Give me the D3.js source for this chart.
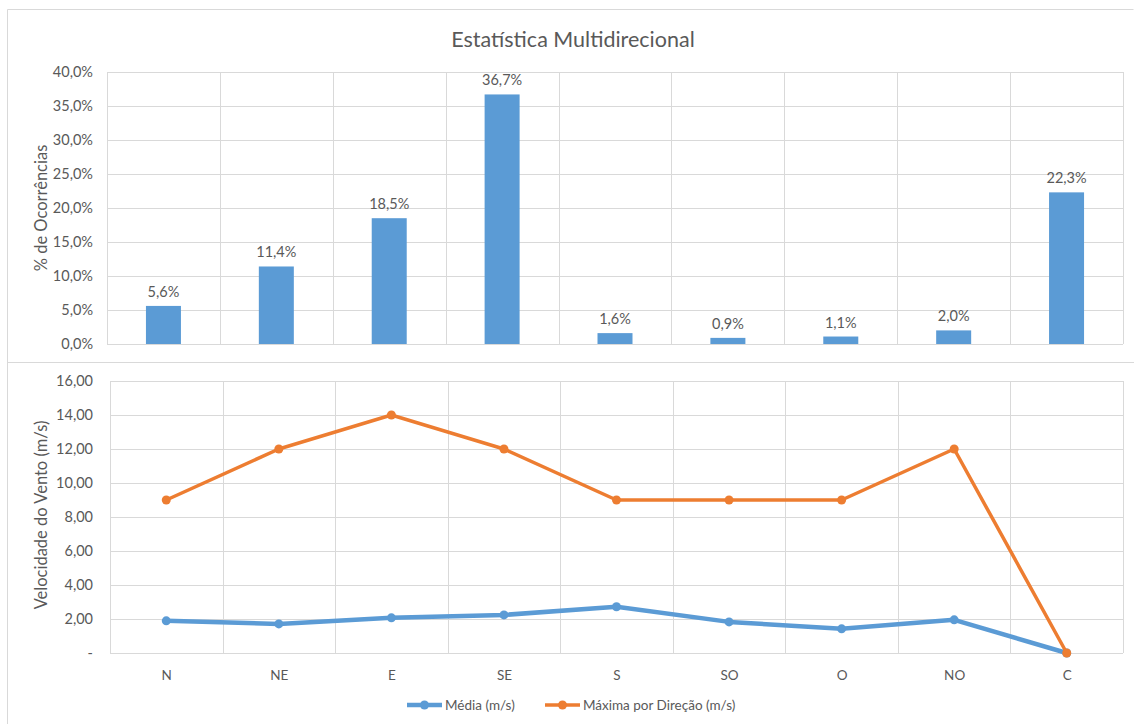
<!DOCTYPE html>
<html><head><meta charset="utf-8">
<script src="https://cdn.jsdelivr.net/npm/d3@7"></script>
<style>
html,body{margin:0;padding:0;background:#fff;}
svg{display:block;font-family:Lato,"Open Sans",sans-serif;}
</style></head>
<body>
<svg id="chart" width="1134" height="724"></svg>
<script>
// Wind direction categories
const directions = ["N","NE","E","SE","S","SO","O","NO","C"];
// Share of occurrences per direction (%)
const occurrence = [5.6, 11.4, 18.5, 36.7, 1.6, 0.9, 1.1, 2.0, 22.3];
// Mean wind speed per direction (m/s)
const meanSpeed = [1.89, 1.71, 2.07, 2.24, 2.72, 1.83, 1.42, 1.95, 0];
// Maximum wind speed per direction (m/s)
const maxSpeed = [9, 12, 14, 12, 9, 9, 9, 12, 0];
// Axis ticks
const pctTicks = [0, 5, 10, 15, 20, 25, 30, 35, 40];
const speedTicks = [0, 2, 4, 6, 8, 10, 12, 14, 16];

const svg = d3.select("#chart");
const textColor = "#595959";
const gridColor = "#d9d9d9";
const blue = "#5B9BD5";
const orange = "#ED7D31";
const fmt1 = v => v.toFixed(1).replace(".", ",");
const fmt2 = v => v === 0 ? "-" : v.toFixed(2).replace(".", ",");
const tickFont = 14.5;

// Chart frames
svg.append("path")
  .attr("d", "M7.5,724 V9.5 H1133.5")
  .attr("fill", "none").attr("stroke", gridColor).attr("stroke-width", 1);
svg.append("line").attr("x1", 7.5).attr("x2", 1134).attr("y1", 362.5).attr("y2", 362.5)
  .attr("stroke", gridColor);

// Title
svg.append("text").attr("x", 573).attr("y", 47).attr("text-anchor", "middle")
  .attr("fill", textColor).attr("font-size", 21.5).text("Estatística Multidirecional");

// ---------- Upper panel: bar chart of occurrences ----------
const upper = {left: 107, right: 1123, top: 72, bottom: 344};
const xTop = d3.scaleBand().domain(directions).range([upper.left, upper.right]);
const yTop = d3.scaleLinear().domain([0, 40]).range([upper.bottom, upper.top]);

const gTop = svg.append("g");
// horizontal gridlines
gTop.append("g").attr("transform", `translate(${upper.left},0)`)
  .call(d3.axisLeft(yTop).tickValues(pctTicks).tickSize(-(upper.right - upper.left)).tickFormat(d => fmt1(d) + "%"))
  .call(g => g.select(".domain").remove())
  .call(g => g.selectAll(".tick line").attr("stroke", gridColor))
  .call(g => g.selectAll(".tick text").attr("fill", textColor).attr("font-size", tickFont)
    .attr("x", -14).attr("font-family", "Lato,'Open Sans',sans-serif"));
// vertical gridlines at category boundaries
gTop.selectAll("line.vgrid").data(directions.concat(["_end"])).join("line")
  .attr("class", "vgrid")
  .attr("x1", (d, i) => Math.round(upper.left + i * xTop.step()) + 0.5)
  .attr("x2", (d, i) => Math.round(upper.left + i * xTop.step()) + 0.5)
  .attr("y1", upper.top).attr("y2", upper.bottom)
  .attr("stroke", gridColor);
// bars
const barW = 35;
gTop.selectAll("rect.bar").data(occurrence).join("rect")
  .attr("class", "bar")
  .attr("x", (d, i) => xTop(directions[i]) + xTop.bandwidth() / 2 - barW / 2)
  .attr("width", barW)
  .attr("y", d => yTop(d))
  .attr("height", d => yTop(0) - yTop(d))
  .attr("fill", blue);
// value labels
gTop.selectAll("text.lbl").data(occurrence).join("text")
  .attr("class", "lbl")
  .attr("x", (d, i) => xTop(directions[i]) + xTop.bandwidth() / 2)
  .attr("y", d => yTop(d) - 9)
  .attr("text-anchor", "middle").attr("fill", textColor).attr("font-size", tickFont)
  .text(d => fmt1(d) + "%");
// axis title
svg.append("text").attr("transform", "translate(47,208) rotate(-90)")
  .attr("text-anchor", "middle").attr("fill", textColor).attr("font-size", 16.5)
  .text("% de Ocorrências");

// ---------- Lower panel: wind speed lines ----------
const lower = {left: 110, right: 1123, top: 381, bottom: 653};
const xBot = d3.scalePoint().domain(directions).range([lower.left, lower.right]).padding(0.5);
const stepB = (lower.right - lower.left) / directions.length;
const yBot = d3.scaleLinear().domain([0, 16]).range([lower.bottom, lower.top]);

const gBot = svg.append("g");
gBot.append("g").attr("transform", `translate(${lower.left},0)`)
  .call(d3.axisLeft(yBot).tickValues(speedTicks).tickSize(-(lower.right - lower.left)).tickFormat(fmt2))
  .call(g => g.select(".domain").remove())
  .call(g => g.selectAll(".tick line").attr("stroke", gridColor))
  .call(g => g.selectAll(".tick text").attr("fill", textColor).attr("font-size", tickFont)
    .attr("x", -17).attr("font-family", "Lato,'Open Sans',sans-serif"));
gBot.selectAll("line.vgrid").data(directions.concat(["_end"])).join("line")
  .attr("class", "vgrid")
  .attr("x1", (d, i) => Math.round(lower.left + i * stepB) + 0.5)
  .attr("x2", (d, i) => Math.round(lower.left + i * stepB) + 0.5)
  .attr("y1", lower.top).attr("y2", lower.bottom)
  .attr("stroke", gridColor);
// category axis labels
gBot.append("g").attr("transform", `translate(0,${lower.bottom})`)
  .call(d3.axisBottom(xBot).tickSize(0).tickPadding(17))
  .call(g => g.select(".domain").remove())
  .call(g => g.selectAll(".tick text").attr("fill", textColor).attr("font-size", 13.5)
    .attr("font-family", "Lato,'Open Sans',sans-serif"));

const line = d3.line().x((d, i) => xBot(directions[i])).y(d => yBot(d));
const series = [
  {name: "Média (m/s)", values: meanSpeed, color: blue, width: 4.5},
  {name: "Máxima por Direção (m/s)", values: maxSpeed, color: orange, width: 3.5}
];
series.forEach(s => {
  gBot.append("path").datum(s.values).attr("d", line)
    .attr("fill", "none").attr("stroke", s.color).attr("stroke-width", s.width)
    .attr("stroke-linejoin", "round").attr("stroke-linecap", "round");
  gBot.selectAll(null).data(s.values).join("circle")
    .attr("cx", (d, i) => xBot(directions[i])).attr("cy", d => yBot(d))
    .attr("r", 4.5).attr("fill", s.color);
});
svg.append("text").attr("transform", "translate(47,515) rotate(-90)")
  .attr("text-anchor", "middle").attr("fill", textColor).attr("font-size", 16.5)
  .text("Velocidade do Vento (m/s)");

// Legend
const legend = svg.append("g");
const legendX = [407, 545];
series.forEach((s, i) => {
  const g = legend.append("g").attr("transform", `translate(${legendX[i]},705)`);
  g.append("line").attr("x1", 0).attr("x2", 35).attr("y1", 0).attr("y2", 0)
    .attr("stroke", s.color).attr("stroke-width", s.width);
  g.append("circle").attr("cx", 17.5).attr("cy", 0).attr("r", 4.5).attr("fill", s.color);
  g.append("text").attr("x", 38).attr("y", 4.5).attr("fill", textColor).attr("font-size", 13.5)
    .text(s.name);
});
</script>
</body></html>
